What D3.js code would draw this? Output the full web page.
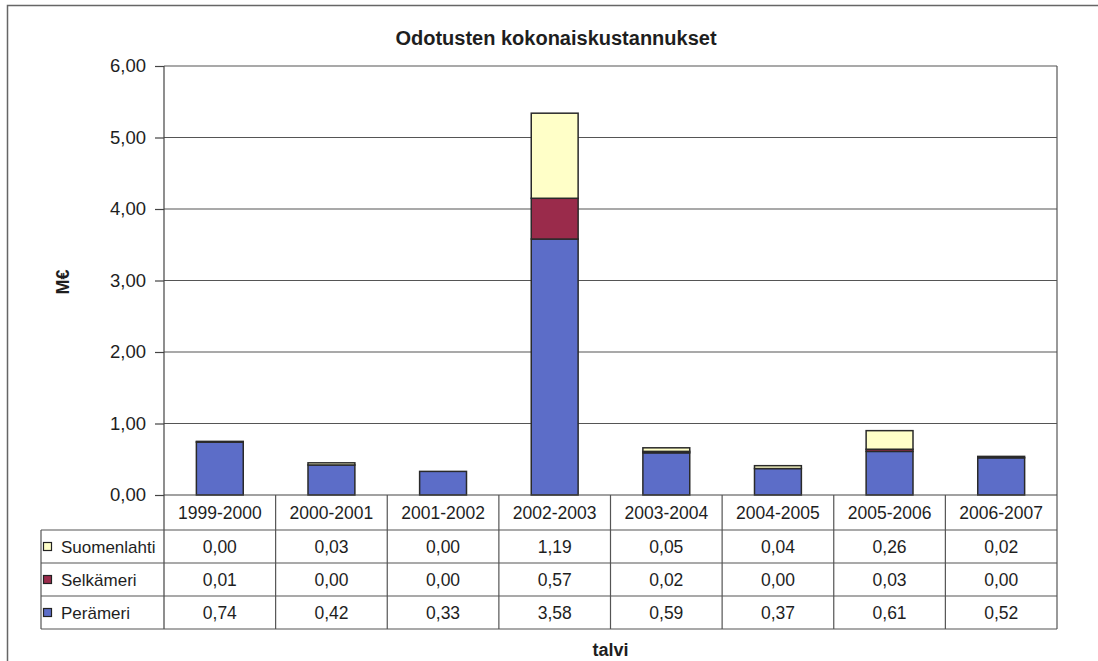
<!DOCTYPE html>
<html><head><meta charset="utf-8">
<script src="https://cdn.jsdelivr.net/npm/d3@7"></script>
<style>body{margin:0;background:#fff}svg{display:block}text{font-family:"Liberation Sans",Arial,sans-serif;fill:#1e1e1e}</style>
</head><body><svg id="c" width="1098" height="661"></svg>
<script>
const categories = ["1999-2000","2000-2001","2001-2002","2002-2003","2003-2004","2004-2005","2005-2006","2006-2007"];
const peramari = [0.74,0.42,0.33,3.58,0.59,0.37,0.61,0.52];
const selkameri = [0.01,0.00,0.00,0.57,0.02,0.00,0.03,0.00];
const suomenlahti = [0.00,0.03,0.00,1.19,0.05,0.04,0.26,0.02];
const seriesNames = ["Perämeri","Selkämeri","Suomenlahti"];
const seriesColors = ["#5c6dc8","#9a2b4b","#ffffc8"];
const yTicks = [0,1,2,3,4,5,6];
const title = "Odotusten kokonaiskustannukset";

const svg = d3.select("#c");
const fmt = v => d3.format(".2f")(v).replace(".", ",");
const L = 164, R = 1057, T = 66, B = 495;

// outer frame
svg.append("rect").attr("x",7.5).attr("y",5.5).attr("width",1200).attr("height",800)
  .attr("fill","#fff").attr("stroke","#666").attr("stroke-width",1.5);

const x = d3.scaleBand().domain(categories).range([L,R]).paddingInner(0.58).paddingOuter(0.29);
const col = d3.scaleBand().domain(categories).range([L,R]).padding(0);
const y = d3.scaleLinear().domain([0,6]).range([B,T]);

// gridlines
svg.append("g").selectAll("line").data(yTicks.filter(d=>d>0)).join("line")
  .attr("x1",L).attr("x2",R).attr("y1",d=>y(d)).attr("y2",d=>y(d))
  .attr("stroke","#555").attr("stroke-width",1.2);
// right border
svg.append("line").attr("x1",R).attr("x2",R).attr("y1",T).attr("y2",B).attr("stroke","#555").attr("stroke-width",1.2);

// y axis
const yAxis = d3.axisLeft(y).tickValues(yTicks).tickFormat(fmt).tickSize(9).tickPadding(9);
const ga = svg.append("g").attr("transform",`translate(${L},0)`).call(yAxis);
ga.select(".domain").remove();
ga.selectAll(".tick line").attr("stroke","#444").attr("stroke-width",1.2);
ga.selectAll(".tick text").attr("font-size",18.5).attr("font-family","Liberation Sans, Arial, sans-serif").attr("fill","#1e1e1e");

// stacked bars
const rows = categories.map((c,i)=>({cat:c, "Perämeri":peramari[i], "Selkämeri":selkameri[i], "Suomenlahti":suomenlahti[i]}));
const stack = d3.stack().keys(seriesNames)(rows);
svg.append("g").selectAll("g").data(stack).join("g")
  .attr("fill",(d,i)=>seriesColors[i])
  .selectAll("rect").data(d=>d).join("rect")
  .attr("x",d=>x(d.data.cat)).attr("width",x.bandwidth())
  .attr("y",d=>y(d[1])).attr("height",d=>y(d[0])-y(d[1]))
  .attr("stroke","#2a2a2a").attr("stroke-width",1.5);

// left axis line (extends through table)
const rowY = [B, B+35, B+68, B+101, B+134];
svg.append("line").attr("x1",L).attr("x2",L).attr("y1",T).attr("y2",rowY[4]).attr("stroke","#444").attr("stroke-width",1.2);

// table
const tbl = svg.append("g");
const lineC = "#555";
rowY.forEach((yy,i)=>{
  tbl.append("line").attr("x1", i===0 ? L : 41).attr("x2",R).attr("y1",yy).attr("y2",yy)
    .attr("stroke",i===0?"#444":lineC).attr("stroke-width",1.2);
});
categories.forEach(c=>{
  tbl.append("line").attr("x1",col(c)+col.bandwidth()).attr("x2",col(c)+col.bandwidth())
    .attr("y1",B).attr("y2",rowY[4]).attr("stroke",lineC).attr("stroke-width",1.2);
});
tbl.append("line").attr("x1",41).attr("x2",41).attr("y1",rowY[1]).attr("y2",rowY[4]).attr("stroke",lineC).attr("stroke-width",1.2);

tbl.selectAll("text.h").data(categories).join("text").attr("class","h")
  .attr("x",d=>col(d)+col.bandwidth()/2).attr("y",(rowY[0]+rowY[1])/2).attr("dy","0.36em")
  .attr("text-anchor","middle").attr("font-size",17.5).text(d=>d);

const tableRows = [
  {name:"Suomenlahti", vals:suomenlahti, color:seriesColors[2]},
  {name:"Selkämeri", vals:selkameri, color:seriesColors[1]},
  {name:"Perämeri", vals:peramari, color:seriesColors[0]}
];
tableRows.forEach((r,i)=>{
  const cy = (rowY[i+1]+rowY[i+2])/2;
  tbl.append("rect").attr("x",43.5).attr("y",cy-4).attr("width",8).attr("height",8)
    .attr("fill",r.color).attr("stroke","#222").attr("stroke-width",1.2);
  tbl.append("text").attr("x",61).attr("y",cy).attr("dy","0.36em").attr("font-size",17).text(r.name);
  tbl.selectAll(null).data(categories).join("text")
    .attr("x",d=>col(d)+col.bandwidth()/2).attr("y",cy).attr("dy","0.36em")
    .attr("text-anchor","middle").attr("font-size",17.5).text((d,j)=>fmt(r.vals[j]));
});

svg.append("text").attr("x",556).attr("y",45).attr("text-anchor","middle")
  .attr("font-size",20).attr("font-weight","bold").text(title);
svg.append("text").attr("transform","translate(69,282) rotate(-90)").attr("text-anchor","middle")
  .attr("font-size",18).attr("font-weight","bold").text("M€");
svg.append("text").attr("x",(L+R)/2).attr("y",656).attr("text-anchor","middle")
  .attr("font-size",18).attr("font-weight","bold").text("talvi");
</script></body></html>
